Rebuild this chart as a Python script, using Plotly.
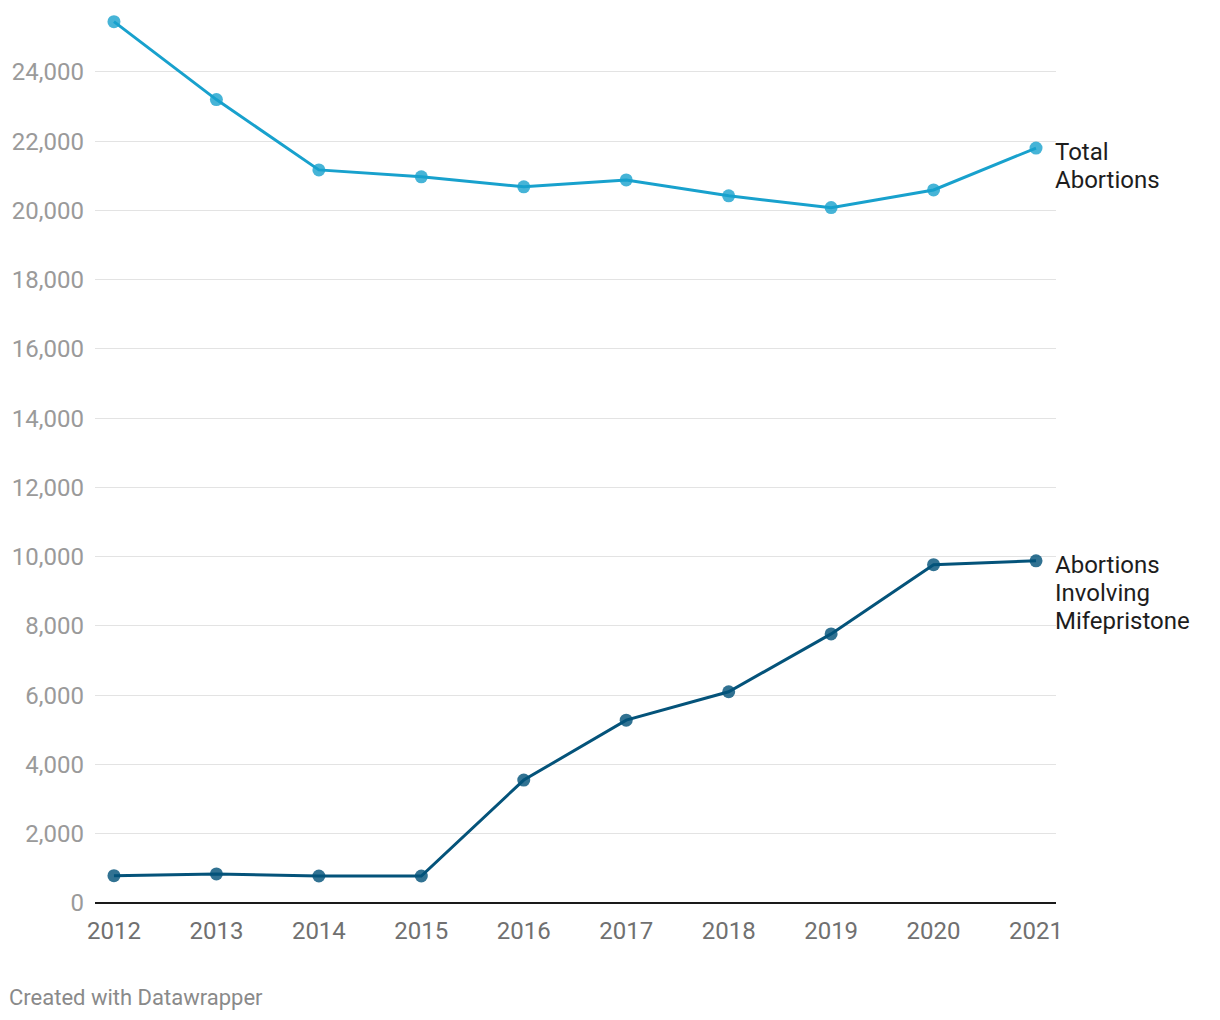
import plotly.graph_objects as go

years = [2012, 2013, 2014, 2015, 2016, 2017, 2018, 2019, 2020, 2021]
total_abortions = [25450, 23200, 21170, 20970, 20680, 20880, 20420, 20080, 20590, 21800]
mifepristone = [790, 840, 780, 780, 3550, 5280, 6100, 7770, 9770, 9880]
y_ticks = [0, 2000, 4000, 6000, 8000, 10000, 12000, 14000, 16000, 18000, 20000, 22000, 24000]
y_tick_labels = ["0", "2,000", "4,000", "6,000", "8,000", "10,000", "12,000", "14,000",
                 "16,000", "18,000", "20,000", "22,000", "24,000"]
series_labels = [["Total", "Abortions"], ["Abortions", "Involving", "Mifepristone"]]

FONT = "Roboto"
W, H = 1212, 1012
L, R, T, B = 87, 164, 5, 117
PW = W - L - R
PH = H - T - B

fig = go.Figure()

fig.add_trace(go.Scatter(
    x=years, y=total_abortions, mode="lines",
    line=dict(color="#18a1cd", width=3), hoverinfo="skip", showlegend=False))
fig.add_trace(go.Scatter(
    x=years, y=total_abortions, mode="markers",
    marker=dict(color="rgba(24,161,205,0.8)", size=13, line=dict(width=0)),
    showlegend=False))
fig.add_trace(go.Scatter(
    x=years, y=mifepristone, mode="lines",
    line=dict(color="#04537a", width=3), hoverinfo="skip", showlegend=False))
fig.add_trace(go.Scatter(
    x=years, y=mifepristone, mode="markers",
    marker=dict(color="rgba(4,83,122,0.82)", size=13, line=dict(width=0)),
    showlegend=False))

for yv, lines in [(total_abortions[-1], series_labels[0]), (mifepristone[-1], series_labels[1])]:
    for i, txt in enumerate(lines):
        fig.add_annotation(
            x=1.0, xref="paper", y=yv, yref="y", text=txt, showarrow=False,
            xanchor="left", yanchor="middle", yshift=-(4 + 28 * i), xshift=-3,
            align="left", font=dict(family=FONT, size=24, color="#1d1d1d"))

fig.add_annotation(
    x=-(L + 1) / PW, xref="paper", y=-(997 - 903) / PH, yref="paper",
    text="Created with Datawrapper", showarrow=False,
    xanchor="left", yanchor="middle",
    font=dict(family=FONT, size=22, color="#8a8a8a"))

fig.update_layout(
    width=W, height=H,
    margin=dict(l=L, r=R, t=T, b=B),
    paper_bgcolor="white", plot_bgcolor="white",
    font=dict(family=FONT),
    xaxis=dict(
        range=[2011.815, 2021.195], tickvals=years, ticktext=[str(y) for y in years],
        showgrid=False, zeroline=False, showline=False, ticks="",
        tickfont=dict(family=FONT, size=24, color="#707070"),
        ticklabelstandoff=11, fixedrange=True),
    yaxis=dict(
        range=[0, 25700], tickvals=y_ticks, ticktext=y_tick_labels,
        showgrid=True, gridcolor="#e3e3e3", gridwidth=1,
        zeroline=True, zerolinecolor="#1a1a1a", zerolinewidth=2,
        showline=False, ticks="",
        tickfont=dict(family=FONT, size=24, color="#9a9a9a"),
        ticklabelstandoff=10, fixedrange=True),
)

fig.write_html("out.html")
